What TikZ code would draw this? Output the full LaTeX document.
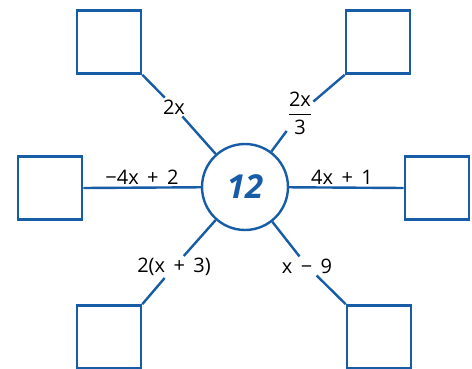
\documentclass[tikz,border=0pt]{standalone}
\usepackage{amsmath}
\usepackage{fontspec}
\setmainfont{Open Sans}
\usepackage{tikz}
\definecolor{mathblue}{RGB}{22,92,166}
\newcommand{\exprfont}{\fontsize{20}{24}\selectfont\spaceskip=0.42em\relax}

\begin{document}
\begin{tikzpicture}[x=1pt, y=-1pt,
    answer/.style={rectangle, draw=mathblue, line width=2.6pt, minimum width=64pt, minimum height=63pt, inner sep=0pt},
    hub/.style={circle, draw=mathblue, line width=2.4pt, minimum size=86pt, inner sep=0pt, text=mathblue, font=\fontsize{33}{36}\selectfont\bfseries\itshape},
    expr/.style={inner sep=2pt, font=\exprfont},
    link/.style={draw=mathblue, line width=2.4pt}]

\useasboundingbox (0,0) rectangle (472,369);

\node [hub] (centre) at (245,187) {12};

\node [answer] (boxtl) at (109,42) {};
\node [answer] (boxtr) at (378,42) {};
\node [answer] (boxl) at (50,188) {};
\node [answer] (boxr) at (437,188) {};
\node [answer] (boxbl) at (109,337) {};
\node [answer] (boxbr) at (379,337) {};

\node [expr] (etl) at (174,107) {2x};
\node [expr, inner sep=1pt] (etr) at (300,113) {$\dfrac{\text{2x}}{\text{3}}$};
\node [expr, anchor=base] (el) at (142,185) {−4x + 2};
\node [expr, anchor=base] (er) at (342,185) {4x + 1};
\node [expr] (ebl) at (174,267) {2(x + 3)};
\node [expr] (ebr) at (307,266) {x − 9};

\draw [link] (boxtl.south east) -- (etl);
\draw [link] (etl) -- (centre);
\draw [link] (boxtr.south west) -- (etr);
\draw [link] (etr) -- (centre);
\draw [link] (boxl.east) -- (centre);
\draw [link] (boxr.west) -- (centre);
\draw [link] (boxbl.north east) -- (ebl);
\draw [link] (ebl) -- (centre);
\draw [link] (boxbr.north west) -- (ebr);
\draw [link] (ebr) -- (centre);

\end{tikzpicture}
\end{document}
